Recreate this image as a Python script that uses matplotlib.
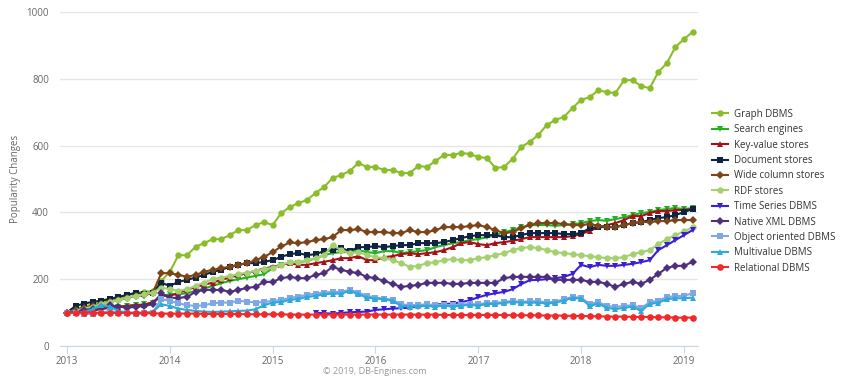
import matplotlib
matplotlib.use("Agg")
import matplotlib.pyplot as plt
import numpy as np

plt.rcParams['font.family'] = ['Open Sans', 'DejaVu Sans']

# Monthly values, Jan 2013 .. Feb 2019
start_year = 2013
n_months = 74

graph = [100, 110, 118, 125, 130, 140, 145, 150, 160, 162, 165, 195,
         222, 272, 272, 297, 308, 320, 320, 332, 347, 347, 362, 371,
         362, 398, 416, 428, 437, 458, 476, 503, 512, 524, 548, 536,
         536, 527, 527, 518, 518, 539, 536, 554, 572, 572, 578, 575,
         566, 563, 533, 536, 560, 596, 611, 632, 662, 677, 686, 713,
         737, 745, 766, 760, 757, 796, 796, 778, 772, 820, 847, 895,
         919, 940]

search = [100, 102, 105, 110, 112, 115, 118, 120, 122, 125, 128, 150,
          155, 155, 158, 165, 172, 180, 188, 195, 200, 205, 210, 215,
          234, 243, 248, 250, 255, 262, 272, 278, 281, 281, 287, 281,
          278, 284, 284, 278, 281, 284, 287, 296, 302, 308, 311, 317,
          320, 326, 332, 341, 347, 355, 362, 362, 362, 360, 362, 365,
          368, 374, 377, 375, 380, 385, 392, 398, 401, 407, 410, 413,
          410, 413]

keyvalue = [100, 102, 104, 106, 110, 115, 118, 120, 123, 123, 132, 150,
            150, 159, 168, 177, 183, 190, 198, 205, 212, 218, 225, 232,
            237, 243, 248, 243, 243, 248, 252, 257, 263, 263, 269, 257,
            257, 266, 269, 275, 278, 275, 278, 281, 287, 296, 308, 311,
            305, 302, 308, 311, 315, 320, 326, 326, 326, 326, 326, 329,
            335, 345, 355, 362, 368, 377, 389, 389, 398, 404, 404, 407,
            407, 410]

document = [100, 120, 127, 132, 136, 141, 147, 153, 159, 155, 159, 189,
            180, 192, 198, 205, 213, 222, 228, 237, 243, 248, 248, 252,
            257, 267, 275, 278, 272, 275, 284, 287, 293, 284, 296, 296,
            299, 296, 299, 302, 302, 308, 308, 308, 311, 317, 323, 329,
            332, 332, 332, 326, 326, 332, 338, 338, 338, 338, 335, 335,
            338, 353, 356, 356, 356, 362, 368, 371, 377, 383, 386, 392,
            401, 410]

widecol = [100, 108, 115, 120, 125, 132, 138, 143, 150, 152, 159, 218,
           218, 213, 207, 213, 222, 228, 233, 237, 243, 248, 257, 267,
           281, 298, 310, 308, 311, 317, 320, 326, 347, 347, 350, 341,
           341, 341, 338, 338, 347, 341, 341, 347, 356, 356, 356, 359,
           362, 356, 347, 338, 341, 353, 362, 368, 368, 368, 365, 362,
           362, 365, 360, 356, 356, 362, 368, 371, 371, 374, 374, 377,
           377, 377]

rdf = [100, 105, 112, 118, 125, 132, 138, 145, 150, 155, 160, 175,
       170, 165, 170, 180, 190, 200, 205, 210, 215, 220, 225, 230,
       234, 243, 251, 251, 257, 263, 272, 302, 287, 278, 281, 272,
       266, 263, 257, 248, 237, 240, 248, 251, 257, 260, 257, 257,
       263, 266, 272, 278, 287, 293, 296, 293, 287, 281, 278, 275,
       272, 269, 266, 263, 263, 266, 275, 281, 287, 305, 320, 332,
       343, 355]

# Time Series DBMS starts in Jun 2015
timeseries_start = 29
timeseries = [100, 98, 97, 99, 101, 102, 103,
              108, 110, 112, 113, 115, 118, 121, 124, 126, 127, 131, 137,
              146, 153, 158, 162, 170, 185, 197, 198, 200, 203, 207, 216,
              243, 236, 243, 240, 240, 243, 246, 251, 257, 287, 302, 317,
              332, 347]

nativexml = [100, 103, 107, 112, 118, 122, 118, 115, 117, 120, 125, 158,
             144, 144, 147, 162, 168, 168, 168, 162, 168, 174, 177, 192,
             192, 203, 207, 203, 203, 213, 218, 237, 228, 222, 218, 207,
             203, 195, 186, 177, 180, 183, 189, 189, 189, 186, 186, 189,
             189, 189, 189, 203, 207, 207, 207, 207, 207, 198, 198, 198,
             198, 192, 192, 186, 177, 186, 192, 186, 198, 216, 234, 240,
             240, 252]

objectoriented = [100, 98, 97, 95, 100, 105, 100, 98, 97, 98, 100, 140,
                  135, 128, 122, 120, 122, 128, 130, 130, 135, 133, 130, 132,
                  135, 138, 144, 148, 153, 157, 160, 162, 162, 168, 160, 150,
                  145, 142, 138, 125, 122, 123, 125, 122, 124, 122, 124, 126,
                  125, 129, 129, 132, 135, 132, 134, 134, 131, 133, 140, 147,
                  144, 126, 131, 120, 117, 120, 122, 114, 131, 136, 146, 150,
                  150, 158]

multivalue = [100, 98, 102, 110, 122, 118, 105, 100, 100, 100, 102, 125,
              120, 112, 108, 105, 103, 102, 103, 104, 105, 106, 110, 122,
              130, 132, 138, 141, 147, 150, 155, 157, 157, 165, 155, 145,
              142, 140, 135, 120, 118, 120, 120, 118, 121, 118, 121, 123,
              121, 126, 126, 129, 132, 130, 130, 130, 127, 130, 136, 144,
              142, 120, 127, 114, 111, 114, 118, 105, 126, 130, 140, 143,
              143, 145]

relational = [100, 100, 100, 100, 99, 99, 99, 99, 98, 98, 98, 97,
              97, 97, 97, 97, 96, 96, 96, 96, 96, 95, 95, 95,
              95, 95, 94, 94, 94, 94, 94, 94, 94, 94, 94, 94,
              94, 94, 94, 94, 94, 94, 94, 94, 93, 93, 93, 93,
              93, 93, 93, 93, 92, 92, 92, 92, 91, 91, 91, 90,
              90, 89, 89, 88, 88, 88, 87, 87, 87, 86, 86, 85,
              85, 85]

series_names = ["Graph DBMS", "Search engines", "Key-value stores", "Document stores",
                "Wide column stores", "RDF stores", "Time Series DBMS", "Native XML DBMS",
                "Object oriented DBMS", "Multivalue DBMS", "Relational DBMS"]
year_ticks = [2013, 2014, 2015, 2016, 2017, 2018, 2019]
y_ticks = [0, 200, 400, 600, 800, 1000]

colors = ["#8BBD2B", "#22B322", "#A3121A", "#0E2440", "#7B4419", "#A5D070",
          "#3B1ED6", "#4E2F7E", "#7FA7E6", "#2EA9D9", "#F02A2A"]
markers = ["o", "v", "^", "s", "D", "o", "v", "D", "s", "^", "o"]
msizes = [4.6, 4.6, 4.6, 4.4, 3.6, 4.6, 4.6, 3.6, 4.4, 4.6, 4.8]

months = np.arange(n_months)
xs = start_year + months / 12.0
ts_x = xs[timeseries_start:timeseries_start + len(timeseries)]
data = [graph, search, keyvalue, document, widecol, rdf, timeseries,
        nativexml, objectoriented, multivalue, relational]

fig = plt.figure(figsize=(8.53, 3.78), dpi=100)
ax = fig.add_axes([60/853, 32/378, 638/853, 334/378])

lines = []
for name, vals, c, mk, ms in zip(series_names, data, colors, markers, msizes):
    x = ts_x if name == "Time Series DBMS" else xs
    ln, = ax.plot(x, vals, color=c, marker=mk, markersize=ms, linewidth=1.5,
                  markeredgewidth=0, label=name)
    lines.append(ln)

ax.set_ylim(0, 1000)
ax.set_xlim(2013 - 7/102.8, 2019 + 14/102.8)
ax.set_yticks(y_ticks)
ax.set_xticks(year_ticks)
ax.set_xticklabels([str(y) for y in year_ticks])
ax.grid(axis='y', color='#e6e6e6', linewidth=1.0)
ax.set_axisbelow(True)
for s in ['top', 'right', 'left']:
    ax.spines[s].set_visible(False)
ax.spines['bottom'].set_color('#ccd6eb')
ax.tick_params(axis='y', length=0, pad=8, labelsize=7, labelcolor='#666666')
ax.tick_params(axis='x', length=5, color='#ccd6eb', pad=2, labelsize=7, labelcolor='#666666')
ax.set_ylabel("Popularity Changes", fontsize=7, color='#666666', labelpad=4)

leg = fig.legend(handles=lines, loc='upper left', bbox_to_anchor=(708/853, 1 - 105/378),
                 frameon=False, fontsize=7, labelspacing=0.45, handlelength=1.7,
                 handletextpad=0.6, borderaxespad=0)
for t in leg.get_texts():
    t.set_color('#333333')

fig.text(375/853, 1 - 372/378, "© 2019, DB-Engines.com", ha='center', va='center',
         fontsize=6.5, color='#999999')

fig.savefig("out.png", dpi=100)
